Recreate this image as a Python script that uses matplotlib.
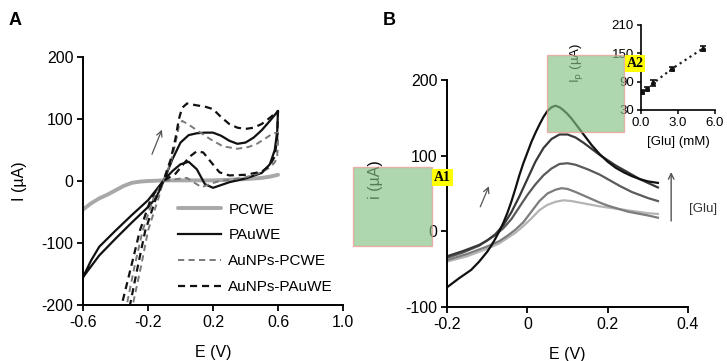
import matplotlib
matplotlib.use("Agg")
import matplotlib.pyplot as plt
from matplotlib.patches import Rectangle

plt.rcParams['font.family'] = ['Liberation Sans', 'DejaVu Sans']
plt.rcParams['axes.unicode_minus'] = False

# ---------------- Panel A data (CV curves) ----------------
pcwe_E = [-0.6, -0.55, -0.5, -0.45, -0.4, -0.35, -0.3, -0.25, -0.2, -0.1, 0.0, 0.2, 0.4, 0.5, 0.55, 0.6]
pcwe_I = [-46, -36, -28, -22, -15, -8, -3, -1, 0, 1, 1, 1, 3, 5, 7, 10]

pauwe_E = [-0.6, -0.55, -0.5, -0.4, -0.3, -0.2, -0.1, -0.05, 0.0, 0.05, 0.1, 0.15, 0.2, 0.25, 0.3, 0.35,
           0.4, 0.45, 0.5, 0.55, 0.6,
           0.595, 0.58, 0.55, 0.5, 0.4, 0.3, 0.2, 0.15, 0.1, 0.05, 0.0, -0.05, -0.1, -0.15, -0.2,
           -0.3, -0.4, -0.5, -0.6]
pauwe_I = [-155, -128, -106, -80, -55, -31, 2, 35, 62, 74, 77, 78, 78, 73, 65, 60,
           62, 70, 82, 97, 113,
           80, 50, 27, 13, 4, -2, -11, -5, 19, 31, 27, 16, 2, -27, -42,
           -67, -93, -120, -155]

np_pcwe_E = [-0.341, -0.331, -0.28, -0.233, -0.165, -0.106, -0.06, -0.03, -0.01, 0.01, 0.05, 0.1,
             0.18, 0.26, 0.35, 0.42, 0.47, 0.53, 0.57, 0.6,
             0.6, 0.595, 0.58, 0.55, 0.5, 0.4, 0.3, 0.24, 0.18, 0.13, 0.08, 0.04, 0.0, -0.05, -0.106,
             -0.135, -0.2, -0.24, -0.294, -0.303]
np_pcwe_I = [-212, -200, -134, -80, -27, 0, 30, 62, 88, 97, 91, 82,
             68, 56, 52, 55, 60, 70, 77, 78,
             60, 40, 30, 22, 14, 6, 2, 0, -5, -10, -2, 5, 4, 2, 0,
             -27, -80, -134, -200, -212]

np_pauwe_E = [-0.372, -0.362, -0.3, -0.25, -0.18, -0.106, -0.06, -0.03, -0.01, 0.01, 0.04, 0.1,
              0.15, 0.2, 0.25, 0.3, 0.35, 0.4, 0.45, 0.5, 0.55, 0.6,
              0.595, 0.58, 0.55, 0.5, 0.4, 0.3, 0.24, 0.18, 0.14, 0.1, 0.06, 0.02, -0.03, -0.106,
              -0.15, -0.217, -0.26, -0.311, -0.32]
np_pauwe_I = [-212, -200, -134, -80, -27, 0, 35, 70, 100, 118, 125, 122,
              120, 116, 103, 92, 86, 84, 86, 92, 102, 113,
              70, 40, 25, 15, 10, 9, 14, 33, 46, 48, 40, 28, 12, 0,
              -27, -80, -134, -200, -212]

legend_labels = ['PCWE', 'PAuWE', 'AuNPs-PCWE', 'AuNPs-PAuWE']

# ---------------- Panel B data (DPV curves, lowest to highest [Glu]) ----------------
dpv1_E = [-0.2, -0.15, -0.1, -0.07, -0.05, -0.03, -0.01, 0.01, 0.03, 0.05, 0.07, 0.09, 0.11, 0.14,
          0.18, 0.22, 0.26, 0.3, 0.325]
dpv1_I = [-40, -33, -23, -16, -9, -2, 7, 17, 28, 35, 39, 41, 40, 37, 33, 30, 27, 24, 23]

dpv2_E = [-0.2, -0.15, -0.1, -0.07, -0.05, -0.03, -0.01, 0.01, 0.03, 0.05, 0.07, 0.085, 0.1, 0.12,
          0.15, 0.18, 0.2, 0.25, 0.3, 0.325]
dpv2_I = [-38, -30, -20, -13, -6, 2, 12, 26, 40, 50, 55, 57, 56, 52, 45, 38, 34, 26, 21, 18]

dpv3_E = [-0.2, -0.16, -0.12, -0.08, -0.06, -0.04, -0.02, 0.0, 0.02, 0.04, 0.06, 0.08, 0.1, 0.12,
          0.15, 0.18, 0.2, 0.23, 0.26, 0.28, 0.3, 0.325]
dpv3_I = [-35, -28, -19, -5, 4, 16, 32, 48, 62, 74, 83, 89, 90, 88, 82, 75, 69, 60, 52, 48, 44, 40]

dpv4_E = [-0.2, -0.16, -0.12, -0.1, -0.08, -0.06, -0.04, -0.02, 0.0, 0.02, 0.04, 0.06, 0.08, 0.1,
          0.12, 0.14, 0.16, 0.18, 0.2, 0.22, 0.25, 0.28, 0.3, 0.325]
dpv4_I = [-33, -26, -18, -12, -4, 8, 25, 46, 69, 92, 110, 122, 128, 128, 124, 117, 109, 101, 94, 87,
          78, 69, 64, 58]

dpv5_E = [-0.2, -0.17, -0.14, -0.12, -0.1, -0.09, -0.08, -0.07, -0.06, -0.05, -0.04, -0.03, -0.02,
          -0.01, 0.0, 0.01, 0.02, 0.03, 0.04, 0.05, 0.06, 0.07, 0.08, 0.09, 0.1, 0.11, 0.12, 0.14,
          0.16, 0.18, 0.2, 0.22, 0.24, 0.26, 0.28, 0.3, 0.325]
dpv5_I = [-74, -62, -51, -40, -27, -19, -10, 0, 11, 24, 39, 56, 74, 90, 104, 118, 130, 141, 151, 159,
          164, 166, 164, 160, 155, 149, 142, 128, 114, 102, 92, 84, 78, 73, 69, 66, 64]

dpv_colors = ['#b4b4b4', '#7c7c7c', '#5a5a5a', '#383838', '#111111']

# ---------------- Inset data ----------------
glu_mM = [0.1, 0.5, 1.0, 2.5, 5.0]
ip_uA = [68, 74, 87, 117, 160]
ip_err = [4, 4, 6, 5, 6]

FS = 11.5
fig = plt.figure(figsize=(7.27, 3.61), dpi=100)

def style(ax):
    for s in ['top', 'right']:
        ax.spines[s].set_visible(False)
    for s in ['left', 'bottom']:
        ax.spines[s].set_linewidth(1.4)
    ax.tick_params(direction='out', length=4, width=1.3, labelsize=FS, pad=3)

# ---------- Panel A ----------
axA = fig.add_axes([0.1142, 0.1551, 0.3576, 0.6870])
style(axA)
dash = (0, (3.2, 2.2))
axA.plot(pcwe_E, pcwe_I, color='#a8a8a8', lw=2.8, label=legend_labels[0], solid_capstyle='round')
axA.plot(pauwe_E, pauwe_I, color='#111111', lw=1.6, label=legend_labels[1])
axA.plot(np_pcwe_E, np_pcwe_I, color='#7a7a7a', lw=1.4, ls=dash, label=legend_labels[2])
axA.plot(np_pauwe_E, np_pauwe_I, color='#111111', lw=1.6, ls=dash, label=legend_labels[3])
axA.set_xlim(-0.6, 1.0)
axA.set_ylim(-200, 200)
axA.set_xticks([-0.6, -0.2, 0.2, 0.6, 1.0])
axA.set_xticklabels(['-0.6', '-0.2', '0.2', '0.6', '1.0'])
axA.set_yticks([-200, -100, 0, 100, 200])
axA.set_xlabel('E (V)', fontsize=FS)
axA.set_ylabel('I (µA)', fontsize=FS)
axA.xaxis.set_label_coords(0.5, -0.162)
axA.yaxis.set_label_coords(-0.215, 0.5)
axA.annotate('', xy=(-0.108, 87), xytext=(-0.182, 39),
             arrowprops=dict(arrowstyle='->', color='#555555', lw=0.9))
axA.legend(loc='upper left', bbox_to_anchor=(0.365, 0.413), frameon=False, fontsize=11,
           handlelength=2.8, handletextpad=0.5, labelspacing=0.78, borderpad=0, borderaxespad=0)
fig.text(0.021, 0.942, 'A', fontsize=13, fontweight='bold', ha='center', va='center')

# ---------- Panel B ----------
axB = fig.add_axes([0.6149, 0.1496, 0.3315, 0.6288])
style(axB)
for e, i, c in zip([dpv1_E, dpv2_E, dpv3_E, dpv4_E, dpv5_E],
                   [dpv1_I, dpv2_I, dpv3_I, dpv4_I, dpv5_I], dpv_colors):
    axB.plot(e, i, color=c, lw=1.6)
axB.set_xlim(-0.2, 0.4)
axB.set_ylim(-100, 200)
axB.set_xticks([-0.2, 0.0, 0.2, 0.4])
axB.set_xticklabels(['-0.2', '0', '0.2', '0.4'])
axB.set_yticks([-100, 0, 100, 200])
axB.set_xlabel('E (V)', fontsize=FS)
axB.set_ylabel('i (µA)', fontsize=FS)
axB.xaxis.set_label_coords(0.5, -0.175)
axB.yaxis.set_label_coords(-0.266, 0.56)
axB.annotate('', xy=(-0.093, 63), xytext=(-0.120, 29),
             arrowprops=dict(arrowstyle='->', color='#555555', lw=0.9))
axB.annotate('', xy=(0.358, 82), xytext=(0.358, 10),
             arrowprops=dict(arrowstyle='->', color='#555555', lw=1.0))
axB.text(0.437, 29, '[Glu]', fontsize=9.5, ha='center', va='center', color='#333333', clip_on=False)
fig.text(0.536, 0.942, 'B', fontsize=13, fontweight='bold', ha='center', va='center')

# ---------- Inset ----------
axI = fig.add_axes([0.8817, 0.6953, 0.1018, 0.2355])
for s in ['top', 'right']:
    axI.spines[s].set_visible(False)
for s in ['left', 'bottom']:
    axI.spines[s].set_linewidth(1.2)
axI.tick_params(direction='out', length=3, width=1.1, labelsize=9.5, pad=2)
axI.plot(glu_mM, ip_uA, color='#222222', ls=':', lw=1.6)
axI.errorbar(glu_mM, ip_uA, yerr=ip_err, fmt='o', ms=2.5, color='#111111',
             ecolor='#111111', elinewidth=1.2, capsize=2.5, capthick=1.2)
axI.set_xlim(0, 6)
axI.set_ylim(30, 210)
axI.set_xticks([0, 3, 6])
axI.set_xticklabels(['0.0', '3.0', '6.0'])
axI.set_yticks([30, 90, 150, 210])
axI.set_xlabel('[Glu] (mM)', fontsize=9.5, labelpad=5)
axI.set_ylabel(r'I$_\mathrm{p}$ (µA)', fontsize=9.5)
axI.yaxis.set_label_coords(-0.75, 0.55)

# ---------- Overlay annotation boxes ----------
for (x0, y0, w, h) in [(353, 167, 79, 79), (547, 55, 77, 77)]:
    fig.add_artist(Rectangle((x0 / 727, 1 - (y0 + h) / 361), w / 727, h / 361,
                             transform=fig.transFigure, facecolor='#85c283', alpha=0.65,
                             edgecolor='#f09090', lw=1.0, zorder=10))
for (xc, yc, t) in [(442.5, 177.5, 'A1'), (635, 63.5, 'A2')]:
    fig.text(xc / 727, 1 - yc / 361, t, fontsize=10, fontweight='bold', ha='center', va='center',
             family=['Liberation Serif', 'DejaVu Serif'], zorder=11,
             bbox=dict(facecolor='#ffff00', edgecolor='none', pad=1.2))

fig.savefig('out.png', dpi=100)
